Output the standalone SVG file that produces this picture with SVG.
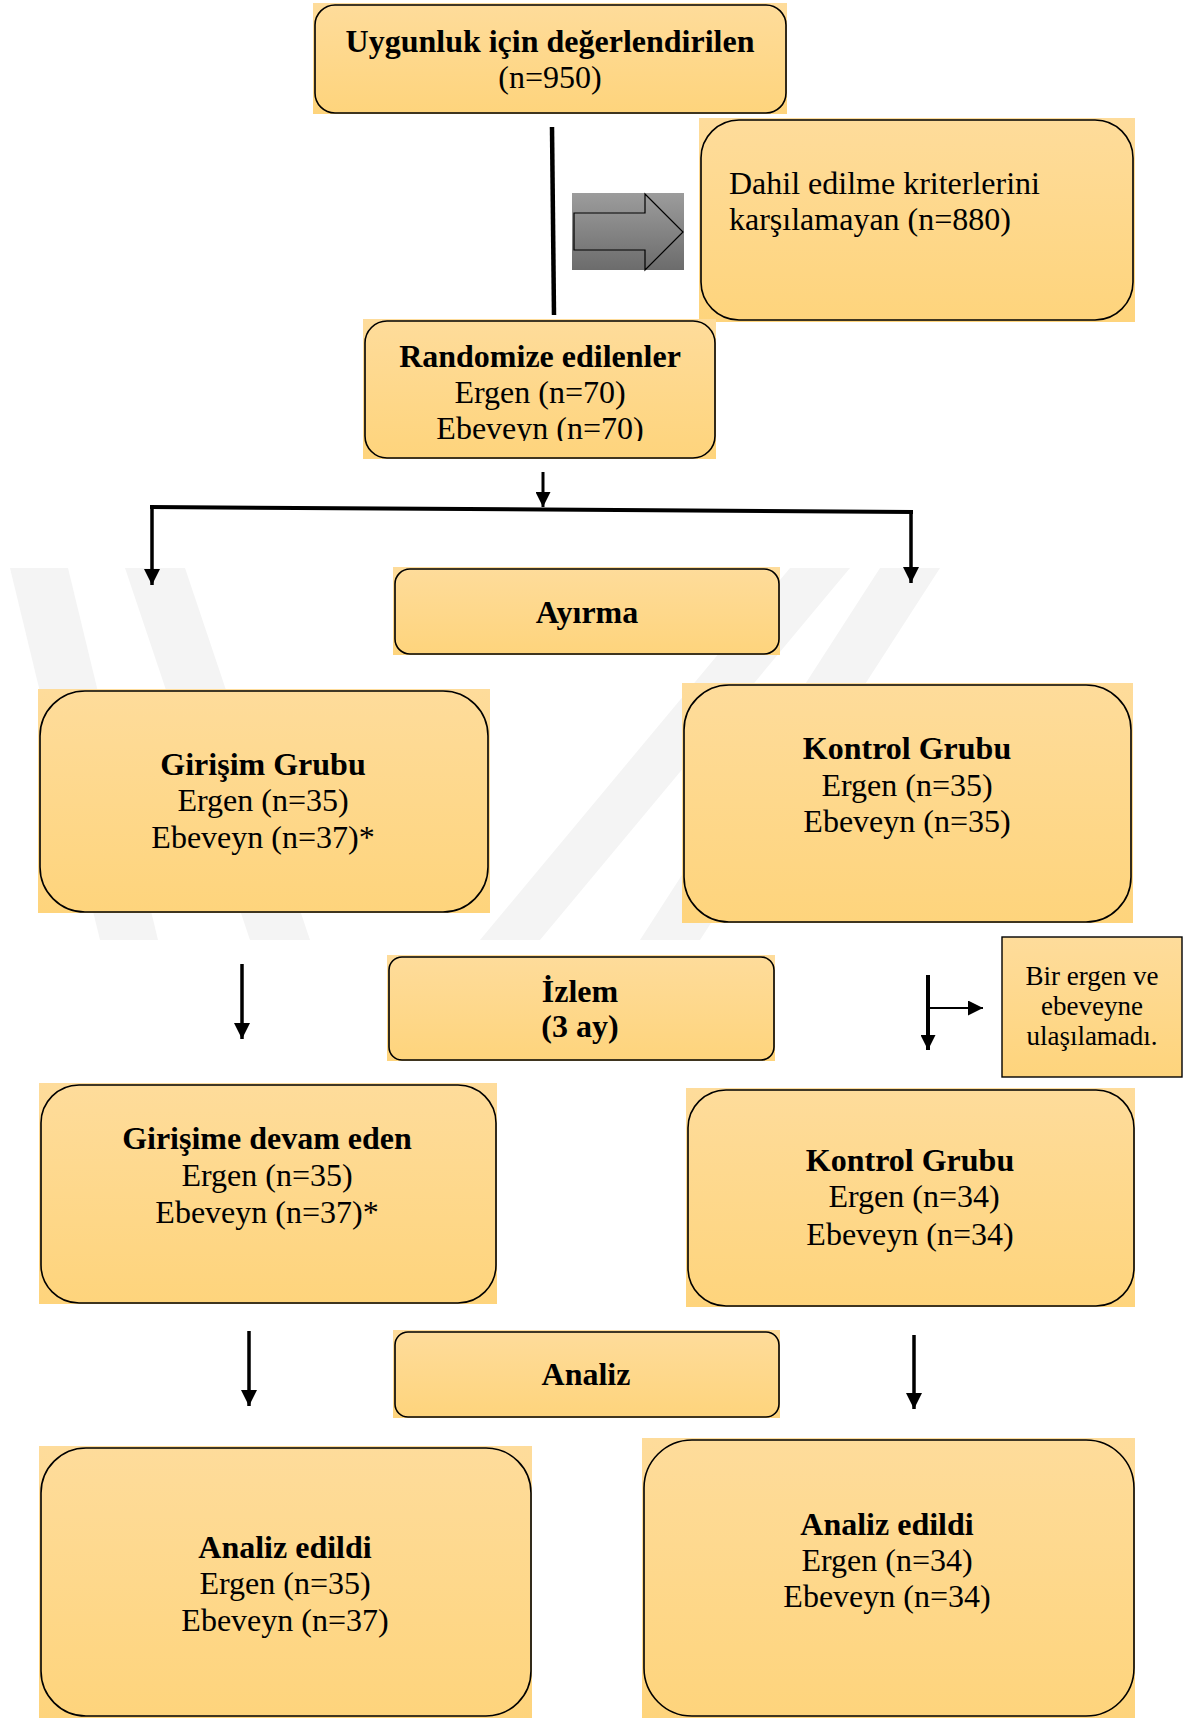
<svg xmlns="http://www.w3.org/2000/svg" width="1188" height="1718" viewBox="0 0 1188 1718">
  <style>
    .fill { fill: url(#gold); }
    .frame { fill: none; stroke: #000; stroke-width: 1.6; }
    .t { font-family: "Liberation Serif", "Times New Roman", serif; font-size: 32px; fill: #000; text-anchor: middle; }
    .b { font-weight: bold; }
    .left { text-anchor: start; }
    .small { font-size: 27px; }
    .wire { stroke: #000; fill: none; }
    .mark { fill: #f4f4f4; }
  </style>
  <defs>
    <linearGradient id="gold" x1="0" y1="0" x2="0" y2="1">
      <stop offset="0" stop-color="#FEDC9B"/>
      <stop offset="1" stop-color="#FED47C"/>
    </linearGradient>
    <linearGradient id="steel" x1="0" y1="0" x2="0" y2="1">
      <stop offset="0" stop-color="#9C9C9C"/>
      <stop offset="1" stop-color="#6C6C6C"/>
    </linearGradient>
    <marker id="head" markerWidth="16" markerHeight="16" refX="16" refY="8" orient="auto" markerUnits="userSpaceOnUse">
      <path d="M0,0 L16,8 L0,16 Z" fill="#000"/>
    </marker>
    <marker id="headS" markerWidth="15" markerHeight="15" refX="15" refY="7.5" orient="auto" markerUnits="userSpaceOnUse">
      <path d="M0,0 L15,7.5 L0,15 Z" fill="#000"/>
    </marker>
    <clipPath id="cutRand">
      <rect x="363" y="319" width="353" height="122"/>
    </clipPath>
  </defs>

  <rect width="1188" height="1718" fill="#fff"/>

  <!-- faint background emblem -->
  <g id="emblem">
    <polygon class="mark" points="10,568 68,568 158,940 100,940"/>
    <polygon class="mark" points="125,568 185,568 310,940 250,940"/>
    <polygon class="mark" points="790,568 850,568 540,940 480,940"/>
    <polygon class="mark" points="880,568 940,568 700,940 640,940"/>
  </g>

  <!-- connectors -->
  <g id="connectors">
    <line class="wire" x1="552" y1="127" x2="554" y2="315" stroke-width="4.5"/>
    <line class="wire" x1="543" y1="472" x2="543" y2="507" stroke-width="3" marker-end="url(#headS)"/>
    <line class="wire" x1="150" y1="507" x2="913" y2="512" stroke-width="4"/>
    <line class="wire" x1="152" y1="507" x2="152" y2="585" stroke-width="3.5" marker-end="url(#head)"/>
    <line class="wire" x1="911" y1="512" x2="911" y2="583" stroke-width="3.5" marker-end="url(#head)"/>
    <line class="wire" x1="242" y1="964" x2="242" y2="1039" stroke-width="3.5" marker-end="url(#head)"/>
    <line class="wire" x1="928" y1="975" x2="928" y2="1050" stroke-width="4" marker-end="url(#headS)"/>
    <line class="wire" x1="928" y1="1008" x2="983" y2="1008" stroke-width="2" marker-end="url(#headS)"/>
    <line class="wire" x1="249" y1="1331" x2="249" y2="1406" stroke-width="3.5" marker-end="url(#head)"/>
    <line class="wire" x1="914" y1="1335" x2="914" y2="1409" stroke-width="3.5" marker-end="url(#head)"/>
    <!-- block arrow towards the excluded box -->
    <rect x="572" y="193" width="112" height="77" fill="url(#steel)"/>
    <path d="M574,213 L645,213 L645,194 L683,232 L645,270 L645,250 L574,250 Z" fill="url(#steel)" stroke="#000" stroke-width="1.2"/>
  </g>

  <g id="eligible">
    <rect class="fill" x="313" y="3" width="474" height="111"/>
    <rect class="frame" x="315" y="5" width="471" height="108" rx="20"/>
    <text class="t b" x="550" y="52">Uygunluk için değerlendirilen</text>
    <text class="t" x="550" y="88">(n=950)</text>
  </g>

  <g id="excluded">
    <rect class="fill" x="699" y="118" width="436" height="204"/>
    <rect class="frame" x="701" y="120" width="432" height="200" rx="38"/>
    <text class="t left" x="729" y="194">Dahil edilme kriterlerini</text>
    <text class="t left" x="729" y="230">karşılamayan (n=880)</text>
  </g>

  <g id="randomized">
    <rect class="fill" x="363" y="319" width="353" height="140"/>
    <rect class="frame" x="365" y="321" width="350" height="137" rx="22"/>
    <text class="t b" x="540" y="367">Randomize edilenler</text>
    <text class="t" x="540" y="403">Ergen (n=70)</text>
    <text class="t" x="540" y="439" clip-path="url(#cutRand)">Ebeveyn (n=70)</text>
  </g>

  <g id="allocation">
    <rect class="fill" x="393" y="567" width="387" height="88"/>
    <rect class="frame" x="395" y="569" width="384" height="85" rx="15"/>
    <text class="t b" x="587" y="623">Ayırma</text>
  </g>

  <g id="intervention">
    <rect class="fill" x="38" y="689" width="452" height="224"/>
    <rect class="frame" x="40" y="691" width="448" height="221" rx="45"/>
    <text class="t b" x="263" y="775">Girişim Grubu</text>
    <text class="t" x="263" y="811">Ergen (n=35)</text>
    <text class="t" x="263" y="848">Ebeveyn (n=37)*</text>
  </g>

  <g id="control">
    <rect class="fill" x="682" y="683" width="451" height="240"/>
    <rect class="frame" x="684" y="685" width="447" height="237" rx="45"/>
    <text class="t b" x="907" y="759">Kontrol Grubu</text>
    <text class="t" x="907" y="796">Ergen (n=35)</text>
    <text class="t" x="907" y="832">Ebeveyn (n=35)</text>
  </g>

  <g id="followup">
    <rect class="fill" x="387" y="955" width="388" height="106"/>
    <rect class="frame" x="389" y="957" width="385" height="103" rx="13"/>
    <text class="t b" x="580" y="1002">İzlem</text>
    <text class="t b" x="580" y="1037">(3 ay)</text>
  </g>

  <g id="lost">
    <rect x="1002" y="937" width="180" height="140" fill="url(#gold)" stroke="#000" stroke-width="1.4"/>
    <text class="t small" x="1092" y="985">Bir ergen ve</text>
    <text class="t small" x="1092" y="1015">ebeveyne</text>
    <text class="t small" x="1092" y="1045">ulaşılamadı.</text>
  </g>

  <g id="intervention-continued">
    <rect class="fill" x="39" y="1083" width="458" height="221"/>
    <rect class="frame" x="41" y="1085" width="455" height="218" rx="38"/>
    <text class="t b" x="267" y="1149">Girişime devam eden</text>
    <text class="t" x="267" y="1186">Ergen (n=35)</text>
    <text class="t" x="267" y="1223">Ebeveyn (n=37)*</text>
  </g>

  <g id="control-continued">
    <rect class="fill" x="686" y="1088" width="449" height="219"/>
    <rect class="frame" x="688" y="1090" width="446" height="216" rx="38"/>
    <text class="t b" x="910" y="1171">Kontrol Grubu</text>
    <text class="t" x="914" y="1207">Ergen (n=34)</text>
    <text class="t" x="910" y="1245">Ebeveyn (n=34)</text>
  </g>

  <g id="analysis">
    <rect class="fill" x="393" y="1330" width="387" height="88"/>
    <rect class="frame" x="395" y="1332" width="384" height="85" rx="13"/>
    <text class="t b" x="586" y="1385">Analiz</text>
  </g>

  <g id="analysed-intervention">
    <rect class="fill" x="39" y="1446" width="493" height="272"/>
    <rect class="frame" x="41" y="1448" width="490" height="268" rx="45"/>
    <text class="t b" x="285" y="1558">Analiz edildi</text>
    <text class="t" x="285" y="1594">Ergen (n=35)</text>
    <text class="t" x="285" y="1631">Ebeveyn (n=37)</text>
  </g>

  <g id="analysed-control">
    <rect class="fill" x="642" y="1438" width="493" height="280"/>
    <rect class="frame" x="644" y="1440" width="490" height="276" rx="48"/>
    <text class="t b" x="887" y="1535">Analiz edildi</text>
    <text class="t" x="887" y="1571">Ergen (n=34)</text>
    <text class="t" x="887" y="1607">Ebeveyn (n=34)</text>
  </g>
</svg>
